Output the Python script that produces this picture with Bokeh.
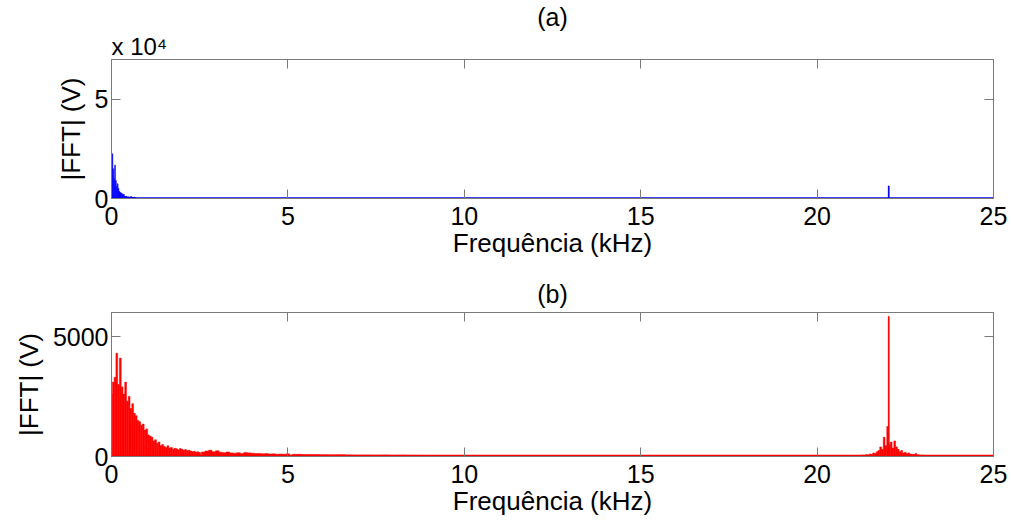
import numpy as np
from bokeh.plotting import figure
from bokeh.layouts import column
from bokeh.models import Range1d, FixedTicker, LinearAxis, Title, CustomJSTickFormatter
from bokeh.embed import file_html
from bokeh.resources import INLINE

# ---------------- data ----------------
# (a) spectrum, low-frequency bins 0.000 .. 0.700 kHz, step 0.025 kHz  (V)
a_low_start, a_low_step = 0.0, 0.025
a_low_amp = [12000, 22500, 15000, 10000, 16800, 9000, 6000, 7400, 5000, 3500,
             3000, 2800, 2400, 2000, 2200, 1200, 1000, 1100, 800, 900,
             700, 600, 1000, 800, 600, 500, 700, 400, 300]
a_spike_freq = [22.03]
a_spike_amp = [6300]
a_floor_freq = [0.0, 25.0]
a_floor_amp = [120, 120]

# (b) spectrum
b_band1_start, b_band1_step = 0.0, 0.05     # 0.00 .. 2.50 kHz
b_band1_amp = [2600, 3100, 3300, 4300, 3000, 4100, 2900, 2600, 3100, 2300,
               2500, 2000, 2200, 1800, 1700, 1500, 1450, 1300, 1350, 1100,
               1150, 900, 850, 800, 650, 700, 550, 600, 450, 500,
               420, 380, 450, 350, 380, 300, 340, 320, 280, 330,
               300, 260, 290, 250, 260, 230, 200, 220, 180, 200,
               170]
b_band2_start, b_band2_step = 2.6, 0.1      # 2.6 .. 5.0 kHz
b_band2_amp = [190, 230, 260, 200, 240, 180, 160, 190, 150, 140,
               160, 130, 170, 150, 140, 120, 130, 110, 120, 100,
               110, 95, 100, 90, 110]
b_band3_start, b_band3_step = 5.25, 0.25    # 5.25 .. 10.0 kHz
b_band3_amp = [90, 85, 80, 75, 70, 75, 65, 60, 60, 55,
               60, 50, 55, 45, 45, 40, 40, 35, 30, 25]
b_band4_start, b_band4_step = 21.30, 0.05   # 21.30 .. 23.20 kHz
b_band4_amp = [60, 50, 80, 60, 100, 80, 150, 120, 200, 250,
               400, 300, 800, 450, 1250, 500, 600, 350, 650, 400,
               300, 200, 250, 150, 180, 120, 150, 100, 90, 80,
               130, 70, 60, 50, 60, 40, 40, 30, 30]
b_spike_freq = [22.03]
b_spike_amp = [5830]
b_floor_freq = [0.0, 25.0]
b_floor_amp = [30, 30]

x_ticks = [0, 5, 10, 15, 20, 25]
a_y_ticks = [0, 50000]
b_y_ticks = [0, 5000]
x_label = "Frequência (kHz)"
y_label = "|FFT| (V)"
a_title = "(a)"
b_title = "(b)"
a_scale = "x 10⁴"


def bins(start, step, n):
    return [round(start + i * step, 4) for i in range(n)]


FONT = "Liberation Sans"
GRAY = "#7a7a7a"
BLANK = CustomJSTickFormatter(code="return '';")


def make_fig(height, top_border, bottom_border, y_end, y_ticks):
    p = figure(width=1011, height=height, output_backend="svg", toolbar_location=None,
               x_range=Range1d(0, 25), y_range=Range1d(0, y_end),
               min_border_left=111, min_border_right=18,
               min_border_top=top_border, min_border_bottom=bottom_border)
    p.grid.visible = False
    p.outline_line_color = GRAY
    p.outline_line_width = 1
    p.background_fill_color = "white"
    p.border_fill_color = "white"
    for ax in (p.xaxis[0], p.yaxis[0]):
        ax.axis_line_color = GRAY
        ax.major_tick_line_color = GRAY
        ax.major_tick_in = 9
        ax.major_tick_out = 0
        ax.minor_tick_line_color = None
        ax.major_label_text_font = FONT
        ax.major_label_text_font_size = "25px"
        ax.major_label_text_color = "black"
        ax.axis_label_text_font = FONT
        ax.axis_label_text_font_size = "26px"
        ax.axis_label_text_font_style = "normal"
        ax.axis_label_text_color = "black"
    p.xaxis[0].ticker = FixedTicker(ticks=x_ticks)
    p.yaxis[0].ticker = FixedTicker(ticks=y_ticks)
    p.xaxis[0].axis_label = x_label
    p.yaxis[0].axis_label = y_label
    p.xaxis[0].major_label_standoff = 8
    p.xaxis[0].axis_label_standoff = 0
    p.yaxis[0].major_label_standoff = 3
    p.yaxis[0].axis_label_standoff = 6
    # mirrored ticks on top and right (no labels)
    top = LinearAxis(ticker=FixedTicker(ticks=x_ticks), formatter=BLANK)
    right = LinearAxis(ticker=FixedTicker(ticks=y_ticks), formatter=BLANK)
    for ax in (top, right):
        ax.axis_line_color = GRAY
        ax.major_tick_line_color = GRAY
        ax.major_tick_in = 9
        ax.major_tick_out = 0
        ax.minor_tick_line_color = None
        ax.major_label_standoff = 0
        ax.major_label_text_font_size = "1px"
    p.add_layout(top, "above")
    p.add_layout(right, "right")
    return p


# ---------------- (a) ----------------
pa = make_fig(265, 54, 67, 70000, a_y_ticks)
pa.yaxis[0].formatter = CustomJSTickFormatter(code="return (tick/1e4).toFixed(0);")
BLUE = "#0000ff"
pa.line(a_floor_freq, a_floor_amp, line_color=BLUE, line_width=2)
pa.vbar(x=bins(a_low_start, a_low_step, len(a_low_amp)), top=a_low_amp, bottom=0,
        width=a_low_step, fill_color=BLUE, line_color=BLUE, line_width=0.5)
pa.vbar(x=a_spike_freq, top=a_spike_amp, bottom=0, width=0.02,
        fill_color=BLUE, line_color=BLUE, line_width=1)
pa.add_layout(Title(text=a_scale, align="left", text_font=FONT, text_font_size="24px",
                    text_font_style="normal", text_color="black", standoff=0,
                    text_line_height=0.85), "above")
pa.add_layout(Title(text=a_title, align="center", text_font=FONT, text_font_size="25px",
                    text_font_style="normal", text_color="black", standoff=0,
                    text_line_height=0.85), "above")

# ---------------- (b) ----------------
pb = make_fig(255, 47, 64, 6000, b_y_ticks)
RED = "#ff0000"
pb.line(b_floor_freq, b_floor_amp, line_color=RED, line_width=2)
for start, step, amp in ((b_band1_start, b_band1_step, b_band1_amp),
                         (b_band2_start, b_band2_step, b_band2_amp),
                         (b_band3_start, b_band3_step, b_band3_amp),
                         (b_band4_start, b_band4_step, b_band4_amp)):
    pb.vbar(x=bins(start, step, len(amp)), top=amp, bottom=0, width=step,
            fill_color=RED, line_color=RED, line_width=0.5)
pb.vbar(x=b_spike_freq, top=b_spike_amp, bottom=0, width=0.02,
        fill_color=RED, line_color=RED, line_width=1)
pb.add_layout(Title(text=b_title, align="center", text_font=FONT, text_font_size="25px",
                    text_font_style="normal", text_color="black", standoff=10), "above")

layout = column(pa, pb, spacing=0)
open("out.html", "w").write(file_html(layout, INLINE))
